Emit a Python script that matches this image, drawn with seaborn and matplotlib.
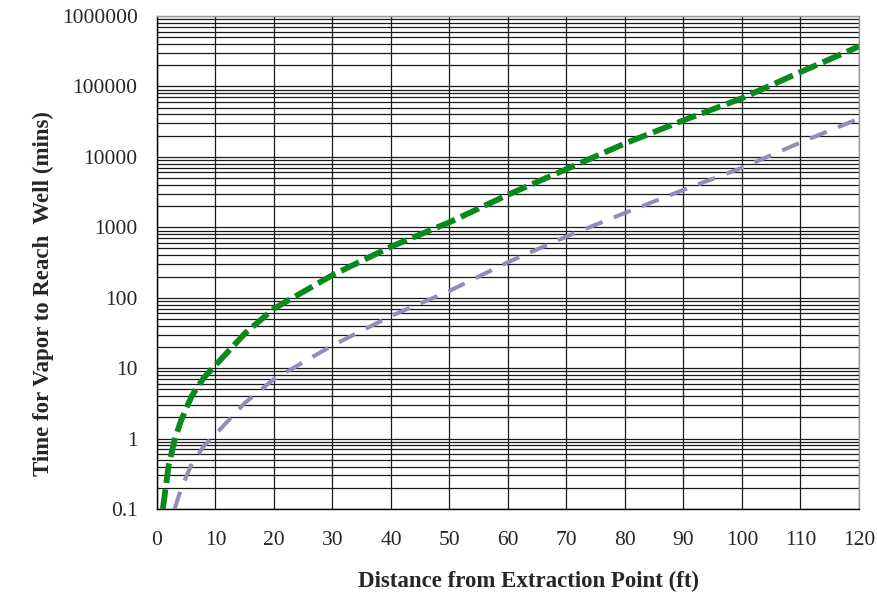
import matplotlib
matplotlib.use("Agg")
import matplotlib.pyplot as plt
import matplotlib.ticker as mticker
import seaborn as sns

# distance from extraction point (ft) and travel time (mins)
dist_green = [1, 2, 3, 4, 5, 6, 8, 10, 15, 20, 30, 40, 50, 60, 70, 80, 90, 100, 110, 120]
time_green = [0.1, 0.42, 0.95, 1.7, 2.7, 4.1, 7.3, 11, 31, 70, 210, 530, 1180, 2900,
              6700, 15500, 33000, 68000, 160000, 370000]

dist_blue = [3, 4, 5, 6, 8, 10, 15, 20, 30, 40, 50, 60, 70, 80, 90, 100, 110, 120]
time_blue = [0.1, 0.18, 0.29, 0.45, 0.78, 1.15, 3.2, 7, 21, 55, 125, 320, 740, 1600,
             3400, 7000, 16000, 35000]

x_ticks = list(range(0, 121, 10))
y_ticks = [0.1, 1, 10, 100, 1000, 10000, 100000, 1000000]
y_tick_labels = ["0.1", "1", "10", "100", "1000", "10000", "100000", "1000000"]

sns.set_style("white")
plt.rcParams["font.family"] = ["Liberation Serif", "DejaVu Serif"]

fig, ax = plt.subplots(figsize=(8.78, 5.96), dpi=100)
fig.subplots_adjust(left=157/878, right=859/878, top=1-16/596, bottom=1-509/596)

sns.lineplot(x=dist_blue, y=time_blue, ax=ax, color="#8e8eb8", linewidth=2.9,
             linestyle=(0, (4.5, 3.0)), zorder=3)
sns.lineplot(x=dist_green, y=time_green, ax=ax, color="#0b8a1c", linewidth=4.2,
             linestyle=(0, (3.4, 1.1)), zorder=4)

ax.set_yscale("log")
ax.set_xlim(0, 120)
ax.set_ylim(0.1, 1000000)
ax.set_xticks(x_ticks)
ax.set_yticks(y_ticks)
ax.set_yticklabels(y_tick_labels)
ax.yaxis.set_minor_locator(mticker.LogLocator(base=10, subs=range(2, 10), numticks=20))
ax.yaxis.set_minor_formatter(mticker.NullFormatter())

ax.grid(which="both", axis="y", color="#1a1a1a", linewidth=0.9)
ax.grid(which="major", axis="x", color="#1a1a1a", linewidth=0.9)
ax.set_axisbelow(True)

ax.tick_params(axis="both", which="major", labelsize=15.5, color="black")
ax.tick_params(axis="y", which="major", direction="out", length=5, pad=9)
ax.tick_params(axis="y", which="minor", length=0)
ax.tick_params(axis="x", which="major", direction="inout", length=8, pad=12)

for side in ["left", "bottom"]:
    ax.spines[side].set_color("black")
    ax.spines[side].set_linewidth(1.0)
for side in ["top", "right"]:
    ax.spines[side].set_color("#9a9a9a")
    ax.spines[side].set_linewidth(1.0)

ax.set_xlabel("Distance from Extraction Point (ft)", fontsize=16.5, fontweight="bold")
ax.set_ylabel("Time for Vapor to Reach  Well (mins)", fontsize=16.5, fontweight="bold")
ax.xaxis.set_label_coords((529 - 157) / 702, (509 - 571) / 493)
ax.yaxis.set_label_coords((54 - 157) / 702, (509 - 294) / 493)

fig.savefig("out.png", dpi=100, facecolor="white")
